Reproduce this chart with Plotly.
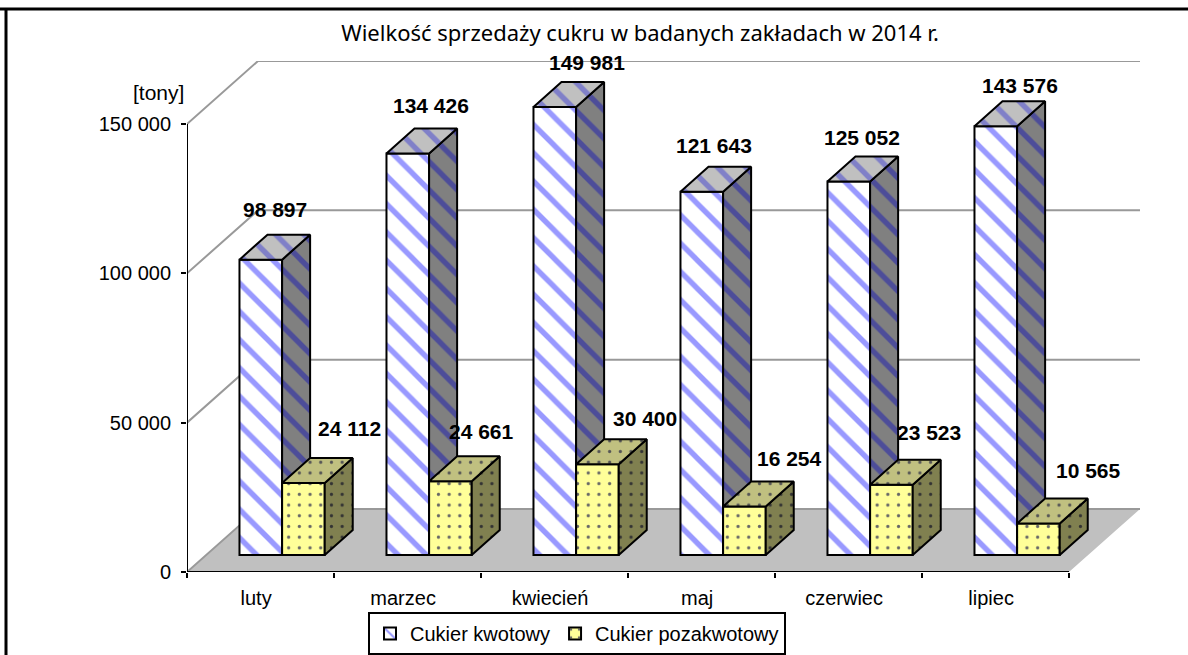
import plotly.graph_objects as go

months = ["luty", "marzec", "kwiecień", "maj", "czerwiec", "lipiec"]
kwotowy = [98897, 134426, 149981, 121643, 125052, 143576]
pozakwotowy = [24112, 24661, 30400, 16254, 23523, 10565]
y_ticks = [0, 50000, 100000, 150000]
y_tick_labels = ["0", "50 000", "100 000", "150 000"]

# label offsets from the bar's top-left front corner, in pixels
lab_a = [(36, 50), (45, 48), (54, 45), (34, 46), (35, 44), (46, 41)]
lab_b = [(67, 54), (52, 50), (69, 46), (66, 48), (59, 52), (71, 53)]

W, H = 1188, 655
L, R, T, B = 187, 1140, 61, 572
PX_X = 147.0              # px per category
PX_Y = 448.0 / 150000     # px per tonne
XMAX = (R - L) / PX_X
YMAX = (B - T) / PX_Y
WALL_DX, WALL_DY = 71 / PX_X, 63 / PX_Y
BAR_DX, BAR_DY = 28 / PX_X, 25 / PX_Y
BASE = 17 / PX_Y
BAR_W = 0.29
X0 = 0.357


def lefts(shift):
    return [i + X0 + shift for i in range(len(months))]


def faces(values, shift):
    side_x, side_y, top_x, top_y = [], [], [], []
    for x, v in zip(lefts(shift), values):
        r = x + BAR_W
        t = BASE + v
        side_x += [r, r + BAR_DX, r + BAR_DX, r, r, None]
        side_y += [BASE, BASE + BAR_DY, t + BAR_DY, t, BASE, None]
        top_x += [x, r, r + BAR_DX, x + BAR_DX, x, None]
        top_y += [t, t, t + BAR_DY, t + BAR_DY, t, None]
    return side_x, side_y, top_x, top_y


def face(x, y, bg, fg, shape, size, solidity, ax):
    return go.Scatter(x=x, y=y, mode="lines", fill="toself", showlegend=False, hoverinfo="skip",
                      line=dict(color="black", width=2), fillcolor=bg, cliponaxis=False,
                      fillpattern=dict(shape=shape, bgcolor=bg, fgcolor=fg, size=size,
                                       solidity=solidity, fillmode="replace"),
                      xaxis="x" + ax, yaxis="y" + ax)


fig = go.Figure()

# floor
fig.add_trace(go.Scatter(x=[0, 6, 6 + WALL_DX, WALL_DX, 0], y=[0, 0, WALL_DY, WALL_DY, 0],
                         mode="lines", fill="toself", fillcolor="#C0C0C0", line=dict(width=0),
                         showlegend=False, hoverinfo="skip", cliponaxis=False))
# walls / gridlines
gx, gy = [], []
for v in y_ticks:
    gx += [0, WALL_DX, XMAX, None]
    gy += [v, v + WALL_DY, v + WALL_DY, None]
fig.add_trace(go.Scatter(x=gx, y=gy, mode="lines", line=dict(color="#999999", width=2),
                         showlegend=False, hoverinfo="skip", cliponaxis=False))
# axis lines
fig.add_trace(go.Scatter(x=[0, 0, None, 0, 6], y=[0, 150000, None, 0, 0], mode="lines",
                         line=dict(color="black", width=2), showlegend=False, hoverinfo="skip",
                         cliponaxis=False))

# quota sugar
fig.add_trace(go.Bar(x=[x + BAR_W / 2 for x in lefts(0)], y=kwotowy, base=BASE, width=BAR_W,
                     name="Cukier kwotowy", xaxis="x2", yaxis="y2", hoverinfo="skip",
                     marker=dict(color="white", line=dict(color="black", width=2),
                                 pattern=dict(shape="\\", bgcolor="white", fgcolor="#9999FF",
                                              size=20, solidity=0.27, fillmode="replace"))))
sx, sy, tx, ty = faces(kwotowy, 0)
fig.add_trace(face(sx, sy, "#808080", "#4D4D99", "\\", 20, 0.27, "2"))
fig.add_trace(face(tx, ty, "#C0C0C0", "#8080C8", "\\", 20, 0.27, "2"))

# non-quota sugar
fig.add_trace(go.Bar(x=[x + BAR_W / 2 for x in lefts(BAR_W)], y=pozakwotowy, base=BASE, width=BAR_W,
                     name="Cukier pozakwotowy", xaxis="x3", yaxis="y3", hoverinfo="skip",
                     marker=dict(color="#FFFF99", line=dict(color="black", width=2),
                                 pattern=dict(shape=".", bgcolor="#FFFF99", fgcolor="#666666",
                                              size=10.7, solidity=0.07, fillmode="replace"))))
sx, sy, tx, ty = faces(pozakwotowy, BAR_W)
fig.add_trace(face(sx, sy, "#808050", "#333333", ".", 10.7, 0.07, "3"))
fig.add_trace(face(tx, ty, "#C0C080", "#555555", ".", 10.7, 0.07, "3"))

annotations = []
for values, shift, offs in ((kwotowy, 0, lab_a), (pozakwotowy, BAR_W, lab_b)):
    for x, v, (dx, dy) in zip(lefts(shift), values, offs):
        annotations.append(dict(x=x, y=BASE + v, xshift=dx, yshift=dy, showarrow=False,
                                text="<b>" + f"{v:,}".replace(",", " ") + "</b>",
                                xanchor="center", yanchor="middle",
                                font=dict(family="Liberation Sans", size=21, color="black")))
annotations.append(dict(xref="paper", yref="paper", x=(186 - L) / (R - L), y=(B - 92) / (B - T),
                        xanchor="right", yanchor="middle", showarrow=False, text="[tony]",
                        font=dict(family="Liberation Sans", size=21, color="black")))

hidden = dict(visible=False, fixedrange=True)
fig.update_layout(
    width=W, height=H, autosize=False,
    margin=dict(l=L, r=W - R, t=T, b=H - B, pad=0, autoexpand=False),
    paper_bgcolor="white", plot_bgcolor="rgba(0,0,0,0)",
    barmode="overlay",
    title=dict(text="Wielkość sprzedaży cukru w badanych zakładach w 2014 r.",
               x=640 / W, xanchor="center", y=1 - 33 / H, yanchor="middle",
               font=dict(family="Noto Sans", size=22, color="black")),
    xaxis=dict(range=[0, XMAX], showgrid=False, zeroline=False, showline=False, fixedrange=True,
               tickmode="array", tickvals=[i + 0.47 for i in range(len(months))], ticktext=months,
               ticks="", ticklabelstandoff=12,
               tickfont=dict(family="Liberation Sans", size=20, color="black"),
               minor=dict(tickmode="array", tickvals=list(range(7)), ticks="outside", ticklen=5,
                          tickwidth=2, tickcolor="black", showgrid=False)),
    yaxis=dict(range=[0, YMAX], showgrid=False, zeroline=False, showline=False, fixedrange=True,
               tickmode="array", tickvals=y_ticks, ticktext=y_tick_labels,
               ticks="outside", ticklen=5, tickwidth=2, tickcolor="black", ticklabelstandoff=6,
               tickfont=dict(family="Liberation Sans", size=20, color="black")),
    xaxis2=dict(range=[0, XMAX], overlaying="x", anchor="y2", **hidden),
    yaxis2=dict(range=[0, YMAX], overlaying="y", anchor="x2", **hidden),
    xaxis3=dict(range=[0, XMAX], overlaying="x", anchor="y3", **hidden),
    yaxis3=dict(range=[0, YMAX], overlaying="y", anchor="x3", **hidden),
    showlegend=True,
    legend=dict(orientation="h", x=(368 - L) / (R - L), xanchor="left", y=(B - 612) / (B - T),
                yanchor="top", bgcolor="white", bordercolor="black", borderwidth=2,
                font=dict(family="Liberation Sans", size=20, color="black"),
                itemclick=False, itemdoubleclick=False),
    annotations=annotations,
    shapes=[
        dict(type="line", xref="paper", yref="paper", x0=-L / (R - L), x1=(W - L) / (R - L),
             y0=(B - 9) / (B - T), y1=(B - 9) / (B - T), line=dict(color="black", width=3)),
        dict(type="line", xref="paper", yref="paper", x0=(6 - L) / (R - L), x1=(6 - L) / (R - L),
             y0=(B - 9) / (B - T), y1=(B - H) / (B - T), line=dict(color="black", width=3)),
    ],
)

fig.write_html("out.html", config=dict(displayModeBar=False),
               post_script="document.body.style.margin='0';document.body.style.overflow='hidden';")
